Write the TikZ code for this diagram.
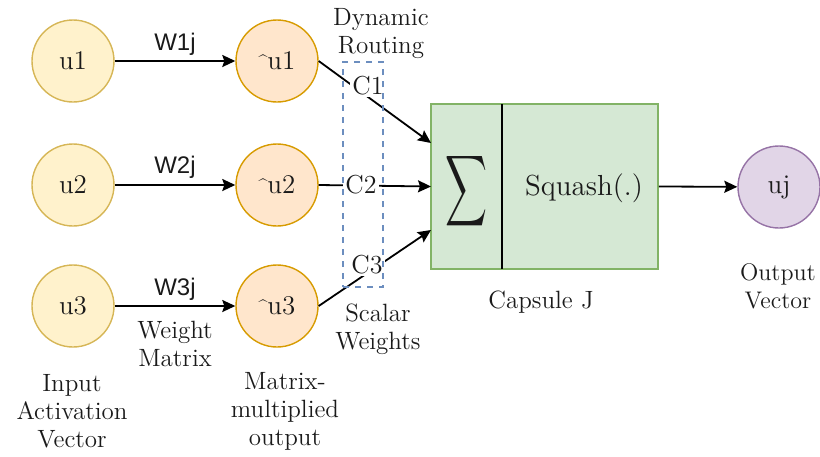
\documentclass[tikz,border=0pt]{standalone}
\usepackage{fontspec}
\usepackage{graphicx}
\newfontfamily\arialf{Liberation Sans}
\usetikzlibrary{arrows.meta}
\definecolor{yfill}{HTML}{FFF2CC}
\definecolor{ydraw}{HTML}{D6B656}
\definecolor{ofill}{HTML}{FFE6CC}
\definecolor{odraw}{HTML}{D79B00}
\definecolor{gfill}{HTML}{D5E8D4}
\definecolor{gdraw}{HTML}{82B366}
\definecolor{pfill}{HTML}{E1D5E7}
\definecolor{pdraw}{HTML}{9673A6}
\definecolor{bdash}{HTML}{6C8EBF}
\definecolor{txt}{HTML}{1A1A1A}
\newcommand{\smallhat}{\raisebox{1.5pt}{\fontsize{8}{8}\selectfont\^{}}}
\begin{document}
\begin{tikzpicture}[x=0.5pt,y=-0.5pt,
  txtfont/.style={font=\fontsize{12.5}{14}\selectfont, text=txt},
  inp/.style={circle, draw=ydraw, fill=yfill, line width=0.7pt, minimum size=41pt, inner sep=0pt, font=\fontsize{13.5}{14}\selectfont, text=txt},
  mid/.style={circle, draw=odraw, fill=ofill, line width=0.7pt, minimum size=41pt, inner sep=0pt, font=\fontsize{13.5}{14}\selectfont, text=txt},
  outc/.style={circle, draw=pdraw, fill=pfill, line width=0.7pt, minimum size=41pt, inner sep=0pt, font=\fontsize{13.5}{14}\selectfont, text=txt},
  lbl/.style={txtfont, align=center, inner sep=0pt},
  wlbl/.style={font=\arialf\fontsize{12}{14}\selectfont, text=txt, inner sep=0pt},
  clbl/.style={font=\fontsize{13}{14}\selectfont, text=txt, fill=white, inner sep=1pt},
  conn/.style={line width=0.9pt, -{Stealth[length=6.5pt,width=6pt,inset=1pt]}},
]
\useasboundingbox (0,0) rectangle (820,456);
% input nodes
\node[inp] (u1) at (73,61) {u1};
\node[inp] (u2) at (73,185) {u2};
\node[inp] (u3) at (73,306) {u3};
% matrix-multiplied nodes
\node[mid] (h1) at (277,61) {\smallhat u1};
\node[mid] (h2) at (277,185) {\smallhat u2};
\node[mid] (h3) at (277,306) {\smallhat u3};
% capsule
\node[draw=gdraw, fill=gfill, line width=0.8pt, minimum width=113.5pt, minimum height=82.5pt, inner sep=0pt] (cap) at (544.5,186.5) {};
\coordinate (divt) at (502,104);
\coordinate (divb) at (502,269);
\draw[line width=0.8pt] (divt) -- (divb);
\node[text=txt, inner sep=0pt] (sig) at (466,191) {\resizebox{21pt}{26pt}{$\displaystyle\sum$}};
\node[text=txt, font=\fontsize{14.5}{16}\selectfont, inner sep=0pt] (sq) at (584,188) {Squash(.)};
% output
\node[outc] (uj) at (779,187) {uj};
% arrows
\draw[conn] (u1) -- (h1);
\draw[conn] (u2) -- (h2);
\draw[conn] (u3) -- (h3);
\coordinate (in1) at (431,143);
\coordinate (in2) at (431,186.5);
\coordinate (in3) at (431,230);
\draw[conn] (h1.east) -- (in1);
\draw[conn] (h2.east) -- (in2);
\draw[conn] (h3.east) -- (in3);
\draw[conn] (cap.east) -- (uj);
% scalar labels
\node[clbl] (c1) at (368,86) {C1};
\node[clbl] (c2) at (361,185) {C2};
\node[clbl] (c3) at (367,265) {C3};
% dashed box
\node[draw=bdash, dashed, dash pattern=on 3pt off 3pt, line width=0.6pt, minimum width=20pt, minimum height=112.5pt, inner sep=0pt] (dbox) at (363,174.5) {};
% weight labels
\node[wlbl] (w1) at (175,44) {W1j};
\node[wlbl] (w2) at (175,167) {W2j};
\node[wlbl] (w3) at (175,289) {W3j};
% text labels
\node[lbl] (wm) at (175,344) {Weight\\Matrix};
\node[lbl] (iav) at (72,411) {Input\\Activation\\Vector};
\node[lbl] (mmo) at (285,411) {Matrix-\\multiplied\\output};
\node[lbl] (dr) at (381,34) {Dynamic\\Routing};
\node[lbl] (sw) at (378,329) {Scalar\\Weights};
\node[lbl] (cj) at (541,302) {Capsule J};
\node[lbl, font=\fontsize{12}{14}\selectfont] (ov) at (778,286) {Output\\Vector};
\end{tikzpicture}
\end{document}
